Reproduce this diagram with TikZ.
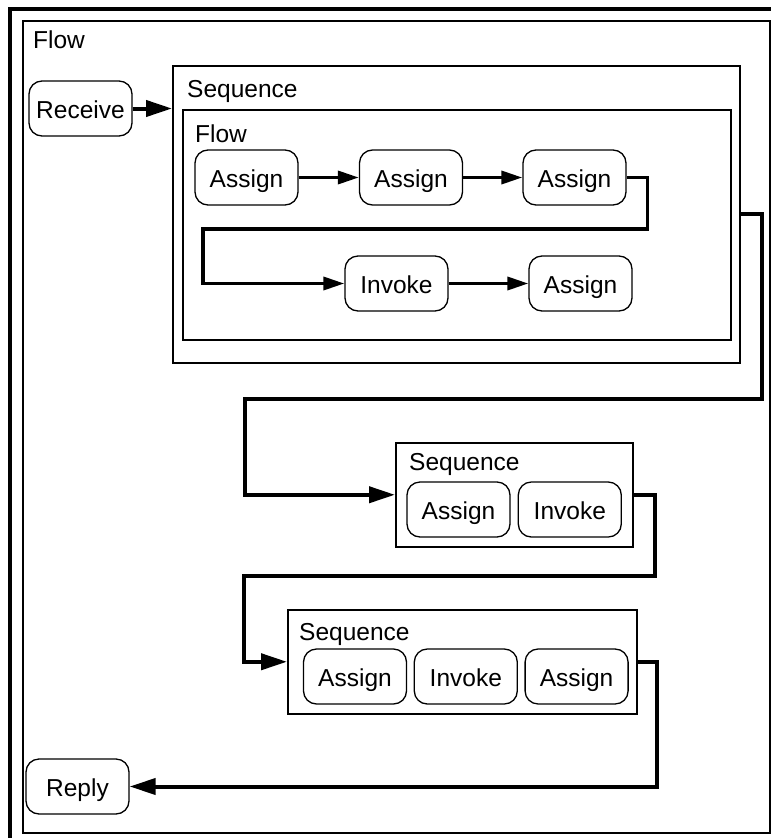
\documentclass[tikz,border=0pt]{standalone}
\usepackage{fontspec}
\setmainfont{Liberation Sans}
\usetikzlibrary{positioning}
\usetikzlibrary{calc}
\usetikzlibrary{arrows.meta}
\tikzset{
    activity/.style = {rectangle, rounded corners=13pt, draw, line width=1.3pt, minimum width=103pt, minimum height=55pt, inner sep=0pt, text height=19pt, text depth=0pt},
    container/.style = {rectangle, draw, line width=1.5pt, anchor=north west, inner sep=0pt},
    boxtitle/.style = {anchor=base west, inner sep=0pt},
    link/.style = {line width=4pt, -{Triangle[length=26pt,width=16pt]}},
    smalllink/.style = {line width=3.5pt, -{Triangle[length=21pt,width=13pt]}}}

\begin{document}
\begin{tikzpicture}[x=1pt, y=-1pt, font=\fontsize{24.5}{28}\selectfont]
    \useasboundingbox (0,0) rectangle (771,838);
    \draw[line width=4pt] (10,838) -- (10,9) -- (771,9);
    % containers
    \node[container, line width=2pt, minimum width=747pt, minimum height=812pt] (flowA) at (22,20) {};
    \node[container, minimum width=567pt, minimum height=297pt] (seqA) at (172,65) {};
    \node[container, minimum width=548pt, minimum height=230pt] (flowB) at (182,109) {};
    \node[container, minimum width=237pt, minimum height=104pt] (seqB) at (395,442) {};
    \node[container, minimum width=349pt, minimum height=104pt] (seqC) at (287,609) {};
    \node[boxtitle] (flowAtitle) at ($(flowA.north west)+(11,28)$) {Flow};
    \node[boxtitle] (seqAtitle) at ($(seqA.north west)+(15,32)$) {Sequence};
    \node[boxtitle] (flowBtitle) at ($(flowB.north west)+(13,33)$) {Flow};
    \node[boxtitle] (seqBtitle) at ($(seqB.north west)+(14,28)$) {Sequence};
    \node[boxtitle] (seqCtitle) at ($(seqC.north west)+(12,31)$) {Sequence};
    % activities
    \node[activity] (recv) at (80.5,108.5) {Receive};
    \node[activity] (as1) at (246.5,177.5) {Assign};
    \node[activity] (as2) at (411,177.5) {Assign};
    \node[activity] (as3) at (574.5,177.5) {Assign};
    \node[activity] (ivA) at (396.5,283.5) {Invoke};
    \node[activity] (as5) at (580.5,283.5) {Assign};
    \node[activity] (asB) at (458.5,509.5) {Assign};
    \node[activity, right=7pt of asB] (ivB) {Invoke};
    \node[activity] (asC1) at (355,676.5) {Assign};
    \node[activity, right=6.5pt of asC1] (ivC) {Invoke};
    \node[activity, right=6.5pt of ivC] (asC2) {Assign};
    \node[activity] (reply) at (77.5,786.5) {Reply};
    % links
    \coordinate (bendA) at (203,229);
    \coordinate (bendB) at (245,399);
    \coordinate (bendC) at (244,576);
    \draw[link] (recv.east) -- (recv.east -| seqA.west);
    \draw[smalllink] (as1.east) -- (as2.west);
    \draw[smalllink] (as2.east) -- (as3.west);
    \draw[smalllink] (as3.east) -- ++(21,0) |- (bendA) |- (ivA.west);
    \draw[smalllink] (ivA.east) -- (as5.west);
    \draw[link] (seqA.east) -- ++(21,0) |- (bendB) |- (seqB.west);
    \draw[link] (seqB.east) -- ++(21,0) |- (bendC) |- (seqC.west);
    \draw[link] (seqC.east) -- ++(19,0) |- (reply.east);
\end{tikzpicture}
\end{document}
